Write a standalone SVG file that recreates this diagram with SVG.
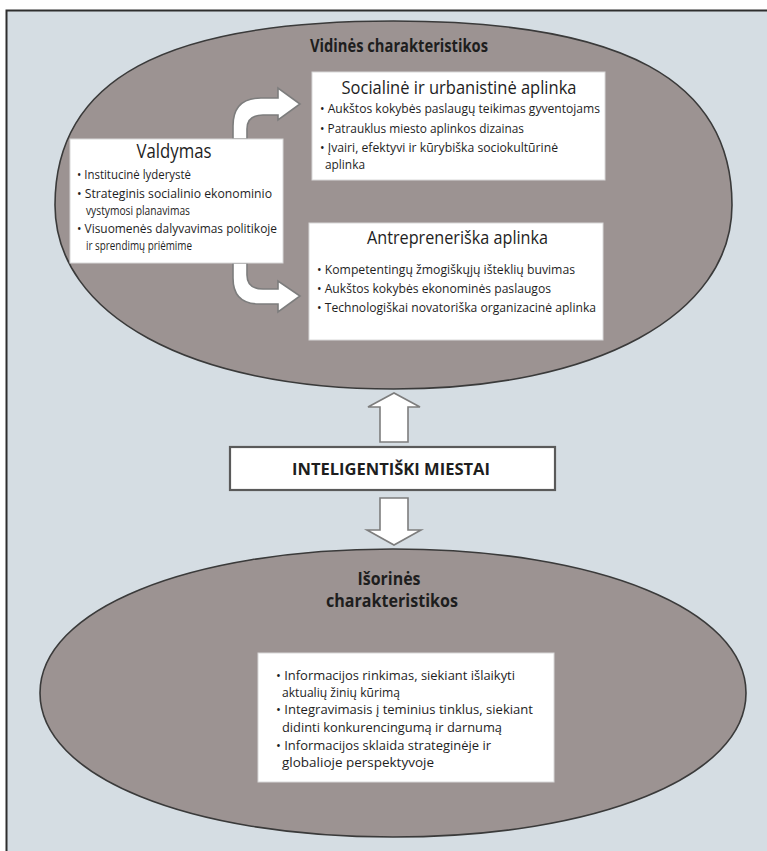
<svg xmlns="http://www.w3.org/2000/svg" width="767" height="851" viewBox="0 0 767 851">
<defs>
<style>
.bg{fill:#d5dde3}
.frame{stroke:#2e2e2e;stroke-width:2;fill:none}
.ell{fill:#9c9392;stroke:#3a3a3a;stroke-width:1.6}
.box{fill:#ffffff;stroke:#d8d8d8;stroke-width:1}
.cbox{fill:#ffffff;stroke:#5a5a5a;stroke-width:2.2}
.arr{fill:#ffffff;stroke:#7d7d7d;stroke-width:1.6;stroke-linejoin:miter}
text{font-family:"Open Sans","Noto Sans","Liberation Sans",sans-serif;fill:#1e1e1e}
.h{font-size:19px;text-anchor:middle;font-weight:400}
.b{font-size:12px}
.bb{font-size:12.5px}
.t{font-size:17px;font-weight:700;text-anchor:middle}
</style>
</defs>
<rect x="0" y="0" width="767" height="851" fill="#ffffff"/>
<rect class="bg" x="6" y="10" width="761" height="841"/>
<path class="frame" d="M6.5,851 L6.5,10.5 L767,10.5"/>

<g id="inner-ellipse">
<path class="ell" d="M55,205 C55,80 163.5,21 393.5,21 C623.5,21 732,80 732,205 C732,315 596.5,389 393.5,389 C190.5,389 55,315 55,205 Z"/>
<text class="t" x="399" y="52" textLength="178" lengthAdjust="spacingAndGlyphs">Vidinės charakteristikos</text>
</g>

<g id="outer-ellipse">
<path class="ell" d="M40,693 C40,609.5 188.3,549 393,549 C597.7,549 746,609.5 746,693 C746,776.5 597.7,837 393,837 C188.3,837 40,776.5 40,693 Z"/>
<text class="t" x="389" y="585" textLength="63" lengthAdjust="spacingAndGlyphs">Išorinės</text>
<text class="t" x="392" y="607" textLength="132" lengthAdjust="spacingAndGlyphs">charakteristikos</text>
</g>

<g id="connectors">
<path class="arr" d="M233,139 L233,126 Q233,98 261,98 L278,98 L278,88 L300,104 L278,120 L278,115 L263,115 Q247,115 247,129 L247,139 Z"/>
<path class="arr" d="M233,263 L233,278 Q233,304 259,304 L278,304 L278,312 L300,296 L278,281 L278,289 L263,289 Q247,289 247,275 L247,263 Z"/>
<path class="arr" d="M380,442 L380,407 L368,407 L394,393 L420,407 L408,407 L408,442 Z"/>
<path class="arr" d="M380,498 L380,530 L367,530 L394,545 L421,530 L408,530 L408,498 Z"/>
</g>

<g id="valdymas">
<rect class="box" x="70" y="139" width="213" height="124"/>
<text class="h" x="174" y="158" style="font-size:20px" textLength="75" lengthAdjust="spacingAndGlyphs">Valdymas</text>
<text class="b" x="77" y="179" textLength="114" lengthAdjust="spacingAndGlyphs">• Institucinė lyderystė</text>
<text class="b" x="77" y="198" textLength="195" lengthAdjust="spacingAndGlyphs">• Strateginis socialinio ekonominio</text>
<text class="b" x="86" y="215" textLength="104" lengthAdjust="spacingAndGlyphs">vystymosi planavimas</text>
<text class="b" x="77" y="233" textLength="200" lengthAdjust="spacingAndGlyphs">• Visuomenės dalyvavimas politikoje</text>
<text class="b" x="86" y="250" textLength="106" lengthAdjust="spacingAndGlyphs">ir sprendimų priėmime</text>
</g>

<g id="socialine">
<rect class="box" x="312" y="72" width="293" height="108"/>
<text class="h" x="459" y="94" textLength="235" lengthAdjust="spacingAndGlyphs">Socialinė ir urbanistinė aplinka</text>
<text class="b" x="320" y="113" textLength="280" lengthAdjust="spacingAndGlyphs">• Aukštos kokybės paslaugų teikimas gyventojams</text>
<text class="b" x="320" y="133" textLength="204" lengthAdjust="spacingAndGlyphs">• Patrauklus miesto aplinkos dizainas</text>
<text class="b" x="320" y="152" textLength="238" lengthAdjust="spacingAndGlyphs">• Įvairi, efektyvi ir kūrybiška sociokultūrinė</text>
<text class="b" x="325" y="169" textLength="40" lengthAdjust="spacingAndGlyphs">aplinka</text>
</g>

<g id="antrepreneriska">
<rect class="box" x="309" y="223" width="294" height="117"/>
<text class="h" x="457.5" y="244" style="font-size:18px" textLength="181" lengthAdjust="spacingAndGlyphs">Antrepreneriška aplinka</text>
<text class="b" x="317" y="274" textLength="258" lengthAdjust="spacingAndGlyphs">• Kompetentingų žmogiškųjų išteklių buvimas</text>
<text class="b" x="317" y="293" textLength="234" lengthAdjust="spacingAndGlyphs">• Aukštos kokybės ekonominės paslaugos</text>
<text class="b" x="317" y="312" textLength="279" lengthAdjust="spacingAndGlyphs">• Technologiškai novatoriška organizacinė aplinka</text>
</g>

<g id="inteligentiski-miestai">
<rect class="cbox" x="230" y="447" width="325" height="43"/>
<text class="t" x="391" y="475" style="font-size:16px" textLength="198" lengthAdjust="spacingAndGlyphs">INTELIGENTIŠKI MIESTAI</text>
</g>

<g id="isorines-box">
<rect class="box" x="258" y="653" width="296" height="129"/>
<text class="bb" x="276" y="680" textLength="239" lengthAdjust="spacingAndGlyphs">• Informacijos rinkimas, siekiant išlaikyti</text>
<text class="bb" x="282" y="697" textLength="118" lengthAdjust="spacingAndGlyphs">aktualių žinių kūrimą</text>
<text class="bb" x="276" y="714" textLength="257" lengthAdjust="spacingAndGlyphs">• Integravimasis į teminius tinklus, siekiant</text>
<text class="bb" x="282" y="732" textLength="220" lengthAdjust="spacingAndGlyphs">didinti konkurencingumą ir darnumą</text>
<text class="bb" x="276" y="750" textLength="215" lengthAdjust="spacingAndGlyphs">• Informacijos sklaida strateginėje ir</text>
<text class="bb" x="282" y="767" textLength="152" lengthAdjust="spacingAndGlyphs">globalioje perspektyvoje</text>
</g>
</svg>
